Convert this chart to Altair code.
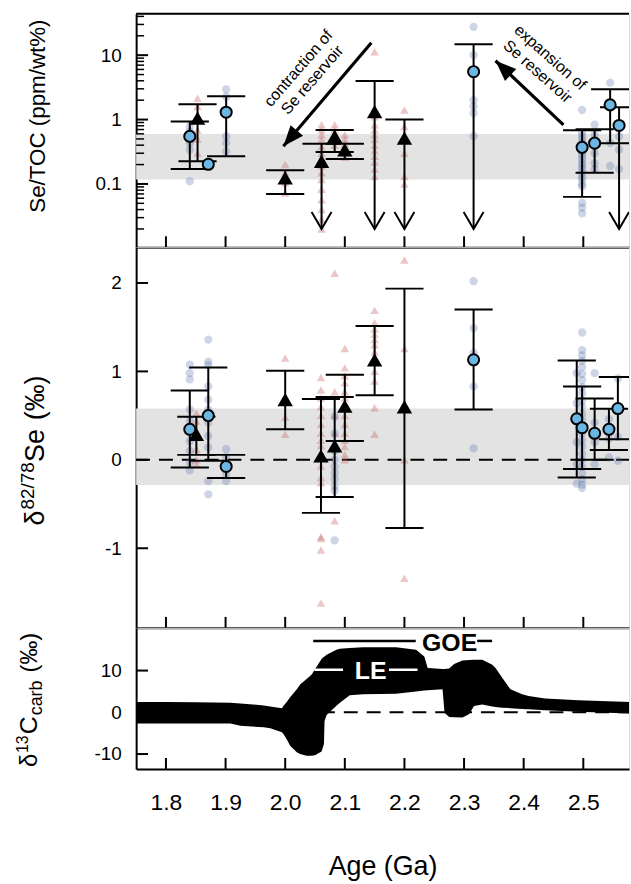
import math
import altair as alt
import pandas as pd

FONT = "Liberation Sans"

# ---------------- layout constants ----------------
W = 496
H_TOP, H_MID, H_BOT = 235, 383, 142
AGE_DOMAIN = [1.75, 1.75 + W / 600.0]
TOP_DOMAIN = [0.0104, 44.0]
MID_DOMAIN = [-1.9, 2.404]
BOT_DOMAIN = [-13.57, 20.24]

# ---------------- ticks ----------------
AGE_TICKS = [1.8, 1.9, 2.0, 2.1, 2.2, 2.3, 2.4, 2.5]
TOP_MAJOR = [0.1, 1, 10]
TOP_MINOR = [0.02, 0.03, 0.04, 0.05, 0.06, 0.07, 0.08, 0.09,
             0.2, 0.3, 0.4, 0.5, 0.6, 0.7, 0.8, 0.9,
             2, 3, 4, 5, 6, 7, 8, 9, 20, 30, 40]
MID_TICKS = [-1, 0, 1, 2]
BOT_TICKS = [-10, 0, 10]

# ---------------- reference bands ----------------
TOP_BAND = [0.117, 0.594]
MID_BAND = [-0.285, 0.58]

# ---------------- Se/TOC summaries ----------------
ARROW_TIP = 0.02
TOP_TRI_AGE = [1.853, 2.000, 2.061, 2.083, 2.100, 2.150, 2.200]
TOP_TRI_VAL = [1.05, 0.124, 0.225, 0.548, 0.34, 1.33, 0.516]
TOP_TRI_LO = [0.225, 0.070, "arrow", 0.313, 0.244, "arrow", "arrow"]
TOP_TRI_HI = [1.73, 0.163, 0.42, 0.69, 0.42, 3.96, 1.0]

TOP_CIR_AGE = [1.840, 1.871, 1.901, 2.316, 2.498, 2.519, 2.545, 2.560]
TOP_CIR_VAL = [0.548, 0.202, 1.30, 5.54, 0.37, 0.43, 1.69, 0.81]
TOP_CIR_LO = [0.171, None, 0.269, "arrow", 0.063, 0.149, 0.43, "arrow"]
TOP_CIR_HI = [0.93, None, 2.30, 14.8, 0.68, 0.71, 2.95, 1.55]

# ---------------- Se/TOC raw samples ----------------
TOP_RAW_CIR = {
    1.840: [0.78, 0.65, 0.55, 0.43, 0.34, 0.11],
    1.871: [0.20],
    1.901: [2.95, 2.27, 1.26, 0.55, 0.43, 0.32],
    2.316: [27.5, 10.0, 2.0, 1.6, 1.26, 0.55],
    2.498: [1.41, 0.62, 0.55, 0.49, 0.43, 0.38, 0.34, 0.30, 0.27, 0.24, 0.21,
            0.19, 0.17, 0.149, 0.13, 0.117, 0.10, 0.092, 0.051, 0.043, 0.035],
    2.519: [0.83, 0.58, 0.43, 0.30, 0.21, 0.17],
    2.545: [3.74, 1.80, 0.43, 0.19],
    2.560: [0.83, 0.55, 0.34, 0.17],
}
TOP_RAW_TRI = {
    1.853: [2.14, 1.59, 1.12, 0.69, 0.50, 0.30],
    2.000: [0.20, 0.149, 0.104, 0.072],
    2.061: [0.83, 0.69, 0.58, 0.49, 0.38, 0.30, 0.24, 0.19, 0.149, 0.117,
            0.083, 0.057, 0.040, 0.028, 0.020],
    2.083: [0.83, 0.69, 0.58, 0.49, 0.40],
    2.100: [0.58, 0.49, 0.42, 0.36, 0.30, 0.26],
    2.150: [11.3, 1.5, 1.1, 0.83, 0.69, 0.58, 0.49, 0.40, 0.33, 0.27, 0.22, 0.17, 0.13],
    2.200: [1.41, 0.78, 0.30, 0.13, 0.10],
}

# ---------------- d82/78Se summaries ----------------
MID_TRI_AGE = [1.851, 2.000, 2.060, 2.083, 2.100, 2.150, 2.200]
MID_TRI_VAL = [0.289, 0.682, 0.045, 0.157, 0.607, 1.131, 0.60]
MID_TRI_LO = [0.056, 0.345, -0.60, -0.42, 0.213, 0.73, -0.77]
MID_TRI_HI = [0.487, 1.008, 0.689, 0.711, 0.963, 1.513, 1.936]

MID_CIR_AGE = [1.840, 1.871, 1.901, 2.316, 2.489, 2.498, 2.519, 2.543, 2.558]
MID_CIR_VAL = [0.345, 0.50, -0.075, 1.131, 0.464, 0.363, 0.30, 0.345, 0.58]
MID_CIR_LO = [-0.086, -0.01, -0.206, 0.57, -0.20, -0.105, 0.0, 0.112, 0.232]
MID_CIR_HI = [0.783, 1.045, 0.056, 1.70, 1.124, 0.83, 0.693, 0.577, 0.936]

# ---------------- d82/78Se raw samples ----------------
MID_RAW_CIR = {
    1.840: [1.075, 0.98, 0.91, 0.57, 0.44, 0.21, 0.10, -0.03, -0.12],
    1.871: [1.36, 1.11, 1.07, 0.83, 0.68, 0.57, 0.42, 0.27, 0.14, -0.24, -0.39],
    1.901: [0.12, 0.03, -0.08, -0.16, -0.24],
    2.083: [0.49, 0.30, 0.10, 0.0, -0.08, -0.15, -0.22, -0.30, -0.35, -0.91],
    2.316: [2.02, 1.49, 1.21, 0.83, 0.13],
    2.489: [0.98, 0.64, 0.46, 0.20, -0.05, -0.27],
    2.498: [1.44, 1.24, 1.18, 1.12, 1.05, 0.97, 0.90, 0.82, 0.75, 0.67, 0.60, 0.52,
            0.45, 0.37, 0.30, 0.22, 0.15, 0.07, 0.0, -0.08, -0.15, -0.22, -0.28, -0.32],
    2.519: [0.98, 0.42, 0.20, -0.05],
    2.543: [0.46, 0.24, 0.026],
    2.558: [0.92, 0.60, 0.26, -0.01],
}
MID_RAW_TRI = {
    1.851: [0.53, 0.44, 0.30, 0.12, 0.0, -0.05],
    2.000: [1.15, 0.68, 0.48, 0.29],
    2.060: [0.93, 0.79, 0.70, 0.60, 0.50, 0.40, 0.30, 0.22, 0.16, 0.05, -0.07,
            -0.20, -0.26, -0.87, -0.89, -1.02, -1.62],
    2.083: [2.11, 0.77, 0.50, 0.30, -0.69],
    2.100: [1.26, 1.04, 0.95, 0.87, 0.77, 0.70, 0.60, 0.50, 0.40, 0.30, 0.22, 0.15, 0.06, 0.0],
    2.150: [1.69, 1.55, 1.48, 1.42, 1.36, 1.30, 1.22, 1.15, 1.0, 0.89, 0.59, 0.29],
    2.200: [2.26, 1.26, 0.0, -1.34],
}

# ---------------- d13C carb envelope ----------------
C13_AGE = [1.742, 1.80, 1.85, 1.908, 1.925, 1.964, 1.975, 1.9945, 1.9973, 2.0028,
           2.0083, 2.0195, 2.025, 2.036, 2.0445, 2.05, 2.061, 2.065, 2.066, 2.0695,
           2.086, 2.0917, 2.1083, 2.1306, 2.186, 2.2195, 2.2333, 2.239, 2.2639, 2.2673,
           2.275, 2.2834, 2.2973, 2.3084, 2.3167, 2.3306, 2.3473, 2.3528, 2.364, 2.3778,
           2.3973, 2.4083, 2.436, 2.4917, 2.58]
C13_LOW = [-2.7, -2.7, -2.7, -2.7, -3.25, -3.6, -3.8, -4.8, -5.24, -6.5,
           -8.0, -9.6, -10.0, -10.4, -10.4, -10.3, -9.4, -7.6, -2.07, -0.64,
           1.6, 2.3, 4.1, 4.3, 4.44, 5.0, 5.2, 5.3, 5.5, -0.08,
           -1.1, -1.2, -1.27, -0.48, 1.5, 1.9, 1.4, 1.27, 1.1, 1.0,
           0.8, 0.71, 0.5, 0.16, -0.32]
C13_HIGH = [2.46, 2.45, 2.4, 2.3, 2.1, 1.66, 1.4, 0.95, 1.6, 2.54,
            3.6, 5.5, 6.67, 8.0, 9.05, 10.3, 12.8, 13.3, 13.4, 13.8,
            15.0, 15.2, 15.4, 15.56, 15.56, 15.0, 13.4, 10.6, 10.4, 10.4,
            10.5, 11.6, 12.4, 12.55, 12.6, 12.6, 11.4, 10.6, 8.3, 5.5,
            4.3, 3.9, 3.3, 2.86, 2.46]

# ---------------- annotations ----------------
CONTRACTION_TAIL = (2.1445, 15.6)
CONTRACTION_TIP = (1.997, 0.384)
EXPANSION_TAIL = (2.4667, 0.828)
EXPANSION_TIP = (2.3528, 8.19)
CONTRACTION_TEXT = [("contraction of", 2.0222, 6.22), ("Se reservoir", 2.0455, 4.11)]
EXPANSION_TEXT = [("expansion of", 2.4445, 9.2), ("Se reservoir", 2.4233, 5.54)]
GOE_LINES = [(2.047, 2.219), (2.322, 2.347)]
GOE_POS = (2.2758, 16.6, 17.1)
LE_LINES = [(2.049, 2.097), (2.174, 2.222)]
LE_POS = (2.1433, 9.9, 10.2)

# axis titles: (text, font size, baseline x offset, start y) in panel pixels
TOP_TITLE = [("Se/TOC (ppm/wt%)", 22.5, -92, 103)]
MID_TITLE = [("δ", 27, -93, 280), ("82/78", 19, -103, 264), ("Se", 27, -93, 216),
             ("(‰)", 27, -93, 174)]
BOT_TITLE = [("δ", 24, -100, 140), ("13", 16, -109, 126), ("C", 25, -100, 107),
             ("carb", 18, -95, 88), ("(‰)", 24, -100, 45)]

# ---------------- styles ----------------
BLUE_FILL = "#6cb6e4"
RAW_BLUE = "#4d67a8"
RAW_PINK = "#c65f5f"
BAND_GRAY = "#e3e3e3"
CAP = 0.032
V_PATH = "M-1,-1.7 L0,0 L1,-1.7"
HEAD_PATH = "M0,0 L0.75,1.9 L-0.75,1.9 Z"

AX = dict(grid=False, ticks=False, domainColor="black", domainWidth=2,
          labelColor="black", labelFont=FONT, titleFont=FONT, titleColor="black",
          titleFontWeight="normal", labelFlush=False, labelOverlap=False)

XSC = alt.Scale(domain=AGE_DOMAIN, nice=False, zero=False)
XAX_IN = alt.Axis(labels=False, title=None, **AX)
XAX_BOT = alt.Axis(values=AGE_TICKS, format=".1f", labelFontSize=23, labelPadding=23,
                   title="Age (Ga)", titleFontSize=27, titlePadding=39, **AX)

YSC = {
    "top": alt.Scale(type="log", domain=TOP_DOMAIN, nice=False),
    "mid": alt.Scale(domain=MID_DOMAIN, nice=False, zero=False),
    "bot": alt.Scale(domain=BOT_DOMAIN, nice=False, zero=False),
}
YAX = {
    "top": alt.Axis(values=TOP_MAJOR, labelExpr="toString(datum.value)", labelFontSize=19,
                    labelPadding=15, title=None, **AX),
    "mid": alt.Axis(values=MID_TICKS, labelExpr="toString(datum.value)", labelFontSize=19,
                    labelPadding=15, title=None, **AX),
    "bot": alt.Axis(values=BOT_TICKS, labelExpr="toString(datum.value)", labelFontSize=19,
                    labelPadding=15, title=None, **AX),
}
XAXES = {"top": XAX_IN, "mid": XAX_IN, "bot": XAX_BOT}


def X(field, p):
    return alt.X(f"{field}:Q", scale=XSC, axis=XAXES[p])


def Y(field, p):
    return alt.Y(f"{field}:Q", scale=YSC[p], axis=YAX[p])


def raw_df(d):
    return pd.DataFrame([{"age": a, "v": v} for a, vals in d.items() for v in vals])


def err_df(age, lo, hi):
    rows = []
    for a, l, h in zip(age, lo, hi):
        if h is None:
            continue
        arrow = (l == "arrow")
        rows.append(dict(age=a, lo=ARROW_TIP if arrow else l, hi=h,
                         capL=a - CAP, capR=a + CAP, arrow=arrow))
    return pd.DataFrame(rows)


def frame_layers(p, height, minor=None, major=None, major_len=12):
    layers = []
    xt = alt.Chart(pd.DataFrame({"age": AGE_TICKS})).mark_rule(strokeWidth=2, color="black").encode(
        x=X("age", p), y=alt.value(height), y2=alt.value(height - 11))
    layers.append(xt)
    if major is not None:
        layers.append(alt.Chart(pd.DataFrame({"v": major})).mark_rule(strokeWidth=2, color="black").encode(
            y=Y("v", p), x=alt.value(0), x2=alt.value(major_len)))
    if minor is not None:
        layers.append(alt.Chart(pd.DataFrame({"v": minor})).mark_rule(strokeWidth=1.5, color="black").encode(
            y=Y("v", p), x=alt.value(0), x2=alt.value(8)))
    return layers


def title_layers(parts, align="left"):
    out = []
    for txt, fs, tx, ty in parts:
        out.append(alt.Chart(pd.DataFrame({"d": [0]})).mark_text(
            angle=270, align=align, baseline="alphabetic", fontSize=fs, font=FONT, color="black").encode(
            x=alt.value(tx), y=alt.value(ty), text=alt.value(txt)))
    return out


def err_layers(df, p):
    layers = [
        alt.Chart(df).mark_rule(strokeWidth=2, color="black", clip=True).encode(
            x=X("age", p), y=Y("lo", p), y2="hi:Q"),
        alt.Chart(df).mark_rule(strokeWidth=2, color="black", clip=True).encode(
            x=X("capL", p), x2="capR:Q", y=Y("hi", p)),
        alt.Chart(df).transform_filter("!datum.arrow").mark_rule(strokeWidth=2, color="black", clip=True).encode(
            x=X("capL", p), x2="capR:Q", y=Y("lo", p)),
    ]
    if df["arrow"].any():
        layers.append(alt.Chart(df).transform_filter("datum.arrow").mark_point(
            shape=V_PATH, size=400, filled=False, color="black", strokeWidth=2, opacity=1, clip=True).encode(
            x=X("age", p), y=Y("lo", p)))
    return layers


def tri_layer(age, val, p):
    return alt.Chart(pd.DataFrame({"age": age, "v": val})).mark_point(
        shape="triangle-up", filled=True, color="black", size=240, opacity=1, clip=True).encode(
        x=X("age", p), y=Y("v", p))


def cir_layer(age, val, p):
    return alt.Chart(pd.DataFrame({"age": age, "v": val})).mark_point(
        shape="circle", filled=True, fill=BLUE_FILL, stroke="black", strokeWidth=2,
        size=125, opacity=1, clip=True).encode(x=X("age", p), y=Y("v", p))


def raw_layers(cir, tri, p):
    return [
        alt.Chart(raw_df(tri)).mark_point(shape="triangle-up", filled=True, color=RAW_PINK,
                                          size=75, opacity=0.35, clip=True).encode(
            x=X("age", p), y=Y("v", p)),
        alt.Chart(raw_df(cir)).mark_point(shape="circle", filled=True, color=RAW_BLUE,
                                          size=70, opacity=0.28, clip=True).encode(
            x=X("age", p), y=Y("v", p)),
    ]


def band_layer(band, p):
    return alt.Chart(pd.DataFrame({"lo": [band[0]], "hi": [band[1]]})).mark_rect(
        color=BAND_GRAY, opacity=1).encode(
        x=alt.value(0), x2=alt.value(W), y=Y("lo", p), y2="hi:Q")


# pixel helpers for arrowhead orientation
def px(age):
    return (age - AGE_DOMAIN[0]) / (AGE_DOMAIN[1] - AGE_DOMAIN[0]) * W


def py_top(v):
    l0, l1 = math.log10(TOP_DOMAIN[0]), math.log10(TOP_DOMAIN[1])
    return (l1 - math.log10(v)) / (l1 - l0) * H_TOP


def head_angle(tail, tip):
    dx = px(tip[0]) - px(tail[0])
    dy = py_top(tip[1]) - py_top(tail[1])
    return math.degrees(math.atan2(dx, -dy)) % 360


def arrow_layers(tail, tip, texts, text_angle):
    p = "top"
    df = pd.DataFrame({"age": [tail[0]], "v": [tail[1]], "age2": [tip[0]], "v2": [tip[1]]})
    layers = [
        alt.Chart(df).mark_rule(strokeWidth=3.2, color="black").encode(
            x=X("age", p), y=Y("v", p), x2="age2:Q", y2="v2:Q"),
        alt.Chart(df).mark_point(shape=HEAD_PATH, size=484, filled=True, color="black",
                                 opacity=1, angle=head_angle(tail, tip)).encode(
            x=X("age2", p), y=Y("v2", p)),
    ]
    tdf = pd.DataFrame([{"t": t, "age": a, "v": v} for t, a, v in texts])
    layers.append(alt.Chart(tdf).mark_text(angle=text_angle, fontSize=16, font=FONT, color="black",
                                           align="center", baseline="middle").encode(
        x=X("age", p), y=Y("v", p), text="t:N"))
    return layers


# ---------------- top panel ----------------
p = "top"
top_layers = [band_layer(TOP_BAND, p)]
top_layers += raw_layers(TOP_RAW_CIR, TOP_RAW_TRI, p)
top_layers += err_layers(err_df(TOP_TRI_AGE, TOP_TRI_LO, TOP_TRI_HI), p)
top_layers += err_layers(err_df(TOP_CIR_AGE, TOP_CIR_LO, TOP_CIR_HI), p)
top_layers += [tri_layer(TOP_TRI_AGE, TOP_TRI_VAL, p), cir_layer(TOP_CIR_AGE, TOP_CIR_VAL, p)]
top_layers += arrow_layers(CONTRACTION_TAIL, CONTRACTION_TIP, CONTRACTION_TEXT, 311)
top_layers += arrow_layers(EXPANSION_TAIL, EXPANSION_TIP, EXPANSION_TEXT, 41.5)
top_layers += frame_layers(p, H_TOP, minor=TOP_MINOR, major=TOP_MAJOR)
top_layers.append(alt.Chart(pd.DataFrame({"d": [0]})).mark_rule(strokeWidth=2, color="black").encode(
    x=alt.value(0), x2=alt.value(W), y=alt.value(0)))
top_layers += title_layers(TOP_TITLE, align="center")
top = alt.layer(*top_layers).properties(width=W, height=H_TOP)

# ---------------- middle panel ----------------
p = "mid"
mid_layers = [band_layer(MID_BAND, p)]
mid_layers.append(alt.Chart(pd.DataFrame({"v": [0]})).mark_rule(
    strokeWidth=2, color="black", strokeDash=[14, 9]).encode(
    y=Y("v", p), x=alt.value(0), x2=alt.value(W)))
mid_layers += raw_layers(MID_RAW_CIR, MID_RAW_TRI, p)
mid_layers += err_layers(err_df(MID_TRI_AGE, MID_TRI_LO, MID_TRI_HI), p)
mid_layers += err_layers(err_df(MID_CIR_AGE, MID_CIR_LO, MID_CIR_HI), p)
mid_layers += [tri_layer(MID_TRI_AGE, MID_TRI_VAL, p), cir_layer(MID_CIR_AGE, MID_CIR_VAL, p)]
mid_layers += frame_layers(p, H_MID, major=MID_TICKS)
mid_layers += title_layers(MID_TITLE)
mid = alt.layer(*mid_layers).properties(width=W, height=H_MID)

# ---------------- bottom panel ----------------
p = "bot"
bot_layers = []
bot_layers.append(alt.Chart(pd.DataFrame({"age": [2.06], "age2": [AGE_DOMAIN[1]], "v": [0]})).mark_rule(
    strokeWidth=2, color="black", strokeDash=[14, 9]).encode(
    x=X("age", p), x2="age2:Q", y=Y("v", p)))
bot_layers.append(alt.Chart(pd.DataFrame({"age": C13_AGE, "lo": C13_LOW, "hi": C13_HIGH})).mark_area(
    color="black", opacity=1, clip=True).encode(
    x=X("age", p), y=Y("lo", p), y2="hi:Q"))
goe_df = pd.DataFrame([{"a1": a, "a2": b, "v": GOE_POS[2]} for a, b in GOE_LINES])
bot_layers.append(alt.Chart(goe_df).mark_rule(strokeWidth=2.5, color="black").encode(
    x=X("a1", p), x2="a2:Q", y=Y("v", p)))
bot_layers.append(alt.Chart(pd.DataFrame({"age": [GOE_POS[0]], "v": [GOE_POS[1]], "t": ["GOE"]})).mark_text(
    fontSize=25, fontWeight="bold", font=FONT, color="black", baseline="middle").encode(
    x=X("age", p), y=Y("v", p), text="t:N"))
le_df = pd.DataFrame([{"a1": a, "a2": b, "v": LE_POS[2]} for a, b in LE_LINES])
bot_layers.append(alt.Chart(le_df).mark_rule(strokeWidth=2.5, color="white").encode(
    x=X("a1", p), x2="a2:Q", y=Y("v", p)))
bot_layers.append(alt.Chart(pd.DataFrame({"age": [LE_POS[0]], "v": [LE_POS[1]], "t": ["LE"]})).mark_text(
    fontSize=25, fontWeight="bold", font=FONT, color="white", baseline="middle").encode(
    x=X("age", p), y=Y("v", p), text="t:N"))
bot_layers += frame_layers(p, H_BOT, major=BOT_TICKS)
bot_layers += title_layers(BOT_TITLE)
bot = alt.layer(*bot_layers).properties(width=W, height=H_BOT)

chart = alt.vconcat(top, mid, bot, spacing=0, bounds="flush").properties(
    padding={"left": 14, "top": 9, "right": 0, "bottom": 5}
).configure_view(stroke=None).configure(font=FONT)

chart.save("out.html", embed_options={"renderer": "svg", "actions": False})
